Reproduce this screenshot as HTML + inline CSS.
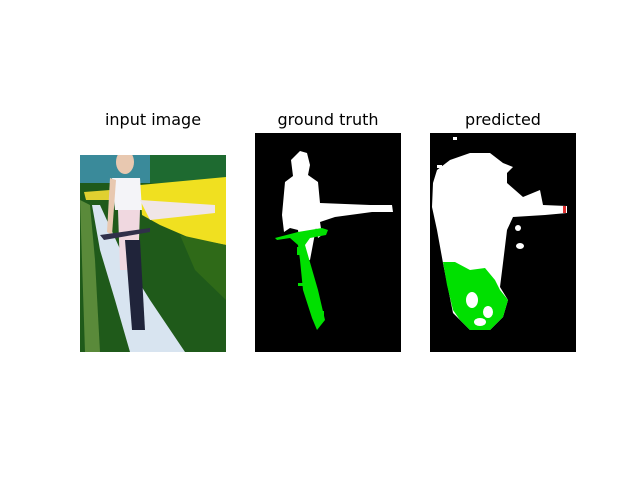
<!DOCTYPE html>
<html><head><meta charset="utf-8"><style>
body{margin:0;background:#fff;}
svg{display:block}
text{font-family:"DejaVu Sans","Liberation Sans",sans-serif;font-size:16px;fill:#000}
</style></head><body>
<svg width="640" height="480">
<defs><clipPath id="c1"><rect x="80" y="155" width="146" height="197"/></clipPath></defs>
<text x="153" y="125" text-anchor="middle">input image</text>
<text x="328" y="125" text-anchor="middle">ground truth</text>
<text x="503" y="125" text-anchor="middle">predicted</text>

<g clip-path="url(#c1)">
<rect x="80" y="155" width="146" height="197" fill="#1f5a1a"/>
<rect x="80" y="155" width="146" height="28" fill="#3a8a9a"/>
<rect x="150" y="155" width="76" height="28" fill="#1e6a30"/>
<polygon points="140,185 226,177 226,245 190,238 160,225 142,215" fill="#f0e020"/>
<polygon points="84,192 110,190 110,200 86,200" fill="#e0d030"/>
<polygon points="180,235 226,245 226,300 195,270" fill="#2f6a18"/>
<polygon points="80,200 85,352 100,352 95,260 90,205" fill="#5a8a3a"/>
<polygon points="92,205 100,205 125,260 150,300 185,352 130,352 115,300 100,250" fill="#d8e4f0"/>
<ellipse cx="125" cy="162" rx="9" ry="12" fill="#e8c8b0"/>
<polygon points="112,178 140,178 142,210 115,210" fill="#f4f4f8"/>
<polygon points="140,200 215,205 215,213 150,220" fill="#f0e6e8"/>
<polygon points="118,210 140,210 138,270 120,270" fill="#f0d8e0"/>
<polygon points="110,178 116,180 112,235 107,232" fill="#e8c8b0"/>
<polygon points="100,235 150,228 150,232 104,240" fill="#30304a"/>
<polygon points="125,240 140,240 145,330 132,330" fill="#20243a"/>
</g>

<g>
<rect x="255" y="133" width="146" height="219" fill="#000"/>
<path d="M300,151 L307,153 L310,165 L308,175 L318,182 L320,203 L370,205 L392,205 L393,212 L372,212 L335,217 L320,222 L322,235 L318,238 L316,228 L310,260 L302,262 L298,230 L290,228 L284,232 L282,215 L285,182 L293,176 L291,160 Z" fill="#fff"/>
<path d="M275,238 L298,232 L322,228 L328,230 L326,235 L310,238 L305,245 L318,290 L325,320 L317,330 L312,318 L303,290 L300,260 L298,245 L290,238 L277,240 Z" fill="#00e000"/>
<rect x="298" y="283" width="8" height="3" fill="#00e000"/>
<rect x="316" y="311" width="8" height="5" fill="#00e000"/>
<rect x="297" y="247" width="5" height="8" fill="#00e000"/>
</g>

<g>
<rect x="430" y="133" width="146" height="219" fill="#000"/>
<path d="M433,183 L437,170 L450,160 L470,153 L490,153 L503,163 L513,167 L507,173 L507,183 L523,197 L540,190 L543,205 L567,206 L567,213 L545,215 L513,217 L507,230 L503,263 L500,287 L508,300 L503,317 L490,330 L470,330 L453,313 L443,263 L437,230 L432,207 Z" fill="#fff"/>
<path d="M443,262 L455,262 L470,270 L485,268 L495,280 L500,290 L508,300 L503,317 L490,330 L470,330 L460,320 L453,310 L447,285 Z" fill="#00e000"/>
<ellipse cx="472" cy="300" rx="6" ry="8" fill="#fff"/>
<ellipse cx="488" cy="312" rx="5" ry="6" fill="#fff"/>
<ellipse cx="480" cy="322" rx="6" ry="4" fill="#fff"/>
<ellipse cx="518" cy="228" rx="3" ry="3" fill="#fff"/>
<ellipse cx="520" cy="246" rx="4" ry="3" fill="#fff"/>
<rect x="453" y="137" width="4" height="3" fill="#fff"/>
<rect x="437" y="165" width="5" height="3" fill="#fff"/>
<rect x="563" y="206" width="3" height="7" fill="#e03030"/>
</g>
</svg>
</body></html>
